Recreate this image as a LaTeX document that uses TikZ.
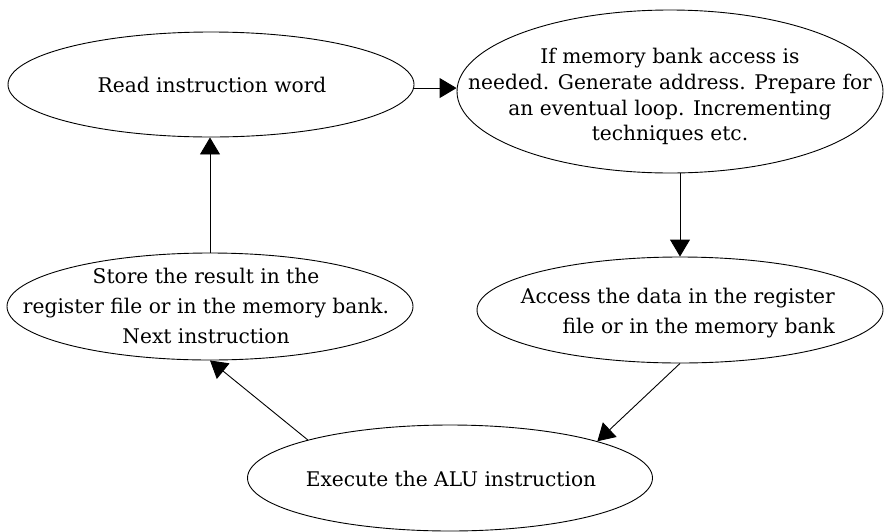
\documentclass[tikz,border=0pt]{standalone}
\usepackage{fontspec}
\setmainfont{DejaVu Serif}
\usetikzlibrary{shapes.geometric,arrows.meta}
\begin{document}
\begin{tikzpicture}[x=1pt,y=-1pt,
  st/.style={draw, ellipse, line width=0.9pt, inner sep=0pt},
  tx/.style={inner sep=0pt, anchor=north, align=center, font=\fontsize{20.2}{25.6}\selectfont},
  wide/.style={font=\fontsize{20.2}{30}\selectfont},
  ar/.style={line width=0.9pt, -{Triangle[length=17pt,width=20pt]}}]
\useasboundingbox (0,0) rectangle (884,531);
% ellipses
\node[st, minimum width=406pt, minimum height=105pt] (e1) at (211,84.5) {};
\node[st, minimum width=426pt, minimum height=163pt] (e2) at (670,91.5) {};
\node[st, minimum width=406pt, minimum height=106pt] (e3) at (680,310) {};
\node[st, minimum width=406pt, minimum height=107pt] (e4) at (210,306.5) {};
\node[st, minimum width=405pt, minimum height=106pt] (e5) at (450,478) {};
% texts
\node[tx] (t1) at (212,77.3) {Read instruction word};
\node[tx] (t2) at (670,48.3) {If memory bank access is\\needed. Generate address. Prepare for\\an eventual loop. Incrementing\\techniques etc.};
\node[tx, wide, anchor=north east, align=right] (t3) at (835,287.5) {Access the data in the register\\file or in the memory bank};
\node[tx, wide] (t4) at (206,268.2) {Store the result in the\\register file or in the memory bank.\\Next instruction};
\node[tx] (t5) at (451,470.6) {Execute the ALU instruction};
% connectors
\draw[ar] (e1.-1.55) -- (e1.-1.55 -| e2.west);
\draw[ar] (e2.south -| e3.north) -- (e3.north);
\draw[ar] (e3.south) -- (e5.14);
\draw[ar] (e5.165) -- (e4.south);
\draw[ar] (e4.north) -- (e4.north |- e1.south);
\end{tikzpicture}
\end{document}
